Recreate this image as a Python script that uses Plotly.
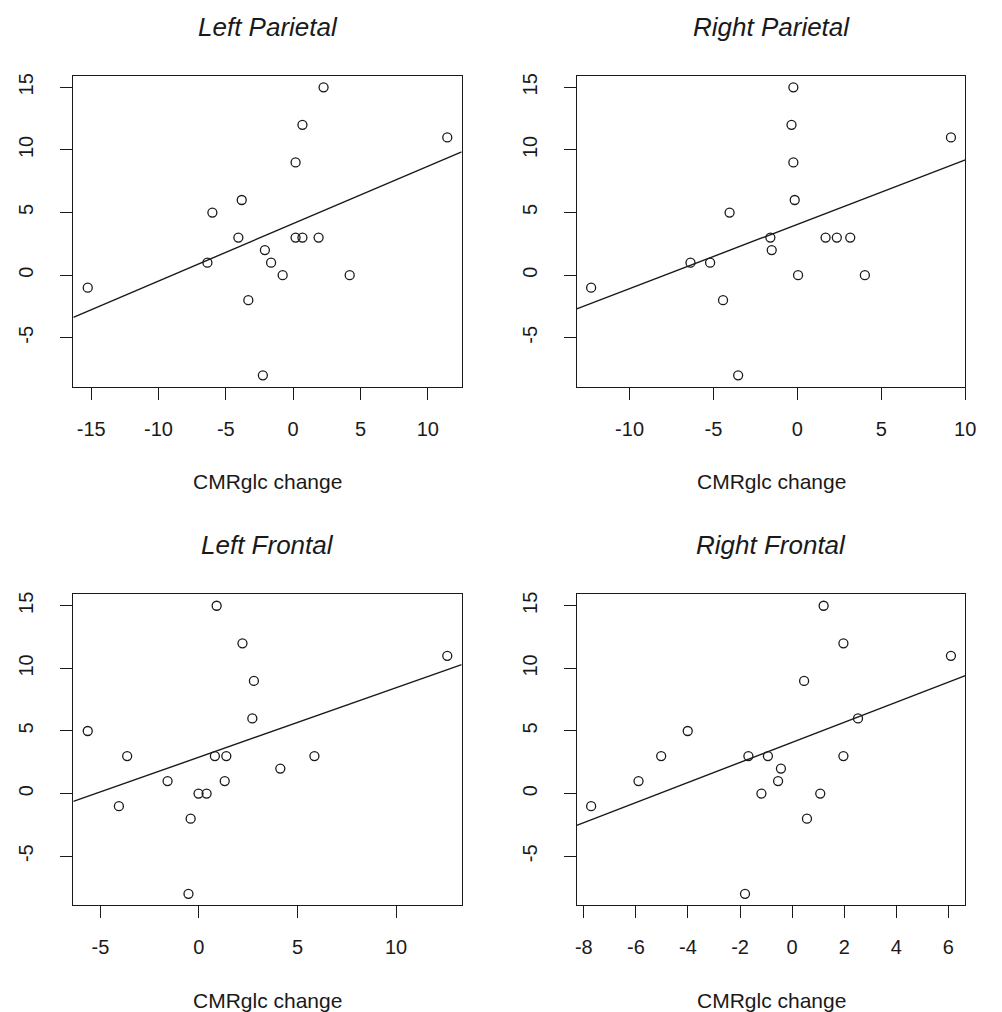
import numpy as np
import plotly.graph_objects as go

# ---- data ----
score_change = [15, 12, 11, 9, 6, 5, 3, 3, 3, 3, 2, 1, 1, 0, 0, -1, -2, -8]
left_parietal = [2.26, 0.69, 11.45, 0.18, -3.82, -6.00, -4.07, 0.18, 0.69, 1.89,
                 -2.10, -1.64, -6.37, -0.78, 4.20, -15.26, -3.33, -2.25]
right_parietal = [-0.24, -0.35, 9.15, -0.24, -0.16, -4.04, -1.61, 1.68, 2.35, 3.15,
                  -1.53, -6.37, -5.20, 0.04, 4.02, -12.29, -4.43, -3.53]
left_frontal = [0.90, 2.21, 12.60, 2.79, 2.71, -5.64, -3.64, 0.81, 1.39, 5.86,
                4.13, -1.59, 1.31, -0.02, 0.39, -4.06, -0.42, -0.53]
right_frontal = [1.21, 1.97, 6.10, 0.46, 2.53, -4.01, -5.03, -1.68, -0.93, 1.97,
                 -0.43, -5.90, -0.54, -1.18, 1.08, -7.72, 0.57, -1.81]

region_titles = ["Left Parietal", "Right Parietal", "Left Frontal", "Right Frontal"]
region_values = [left_parietal, right_parietal, left_frontal, right_frontal]
x_tick_values = [
    [-15, -10, -5, 0, 5, 10],
    [-10, -5, 0, 5, 10],
    [-5, 0, 5, 10],
    [-8, -6, -4, -2, 0, 2, 4, 6],
]
y_tick_values = [-5, 0, 5, 10, 15]
x_label = "CMRglc change"

# ---- layout geometry (page pixels) ----
W, H = 1002, 1012
col_px = [(72.3, 465.7), (582.3, 976.0)]
row_px = [(73.0, 385.0), (593.0, 905.0)]
FONT = "Liberation Sans, Arial, Helvetica, sans-serif"
TICK_SIZE = 20
LABEL_SIZE = 21
TITLE_SIZE = 26
INK = "#1a1a1a"


def px_x(p):
    return p / W


def px_y(p):
    return 1 - p / H


def r_range(vals):
    lo, hi = min(vals), max(vals)
    pad = 0.04 * (hi - lo)
    return [lo - pad, hi + pad]


fig = go.Figure()
annotations = []
yr = r_range(score_change)

for i, (title, xs) in enumerate(zip(region_titles, region_values)):
    r, c = divmod(i, 2)
    n = "" if i == 0 else str(i + 1)
    xa, ya = "x" + n, "y" + n
    x0, x1 = col_px[c]
    top, bot = row_px[r]
    xdom = [px_x(x0), px_x(x1)]
    ydom = [px_y(bot), px_y(top)]
    xr = r_range(xs)

    fig.add_trace(go.Scatter(
        x=xs, y=score_change, mode="markers", xaxis=xa, yaxis=ya,
        marker=dict(symbol="circle-open", size=9, color=INK, line=dict(width=1.3, color=INK)),
        showlegend=False, hoverinfo="x+y"))

    slope, intercept = np.polyfit(xs, score_change, 1)
    fig.add_trace(go.Scatter(
        x=xr, y=[intercept + slope * v for v in xr], mode="lines",
        xaxis=xa, yaxis=ya, line=dict(color=INK, width=1.4),
        showlegend=False, hoverinfo="skip"))

    common = dict(showgrid=False, zeroline=False, showline=True, mirror=True,
                  linecolor=INK, linewidth=1.3, ticks="outside", ticklen=12,
                  tickwidth=1.2, tickcolor=INK,
                  tickfont=dict(family=FONT, size=TICK_SIZE, color=INK))
    fig.layout["xaxis" + n] = dict(
        domain=xdom, range=xr, anchor=ya, tickmode="array",
        tickvals=x_tick_values[i], ticktext=[str(v) for v in x_tick_values[i]],
        ticklabelstandoff=12, **common)
    fig.layout["yaxis" + n] = dict(
        domain=ydom, range=yr, anchor=xa, tickmode="array",
        tickvals=y_tick_values, ticktext=[str(v) for v in y_tick_values],
        tickangle=-90, ticklabelstandoff=19, **common)

    cx = px_x((x0 + x1) / 2)
    annotations.append(dict(
        text="<i>%s</i>" % title, x=cx, y=px_y(top - 49), xref="paper", yref="paper",
        xanchor="center", yanchor="middle", showarrow=False,
        font=dict(family=FONT, size=TITLE_SIZE, color=INK)))
    annotations.append(dict(
        text=x_label, x=cx, y=px_y(bot + 95), xref="paper", yref="paper",
        xanchor="center", yanchor="middle", showarrow=False,
        font=dict(family=FONT, size=LABEL_SIZE, color=INK)))

fig.update_layout(
    width=W, height=H, margin=dict(l=0, r=0, t=0, b=0),
    paper_bgcolor="white", plot_bgcolor="white",
    annotations=annotations, showlegend=False)

fig.write_html(
    "out.html",
    config={"displayModeBar": False},
    post_script="document.body.style.margin='0';"
                "document.documentElement.style.overflow='hidden';")
